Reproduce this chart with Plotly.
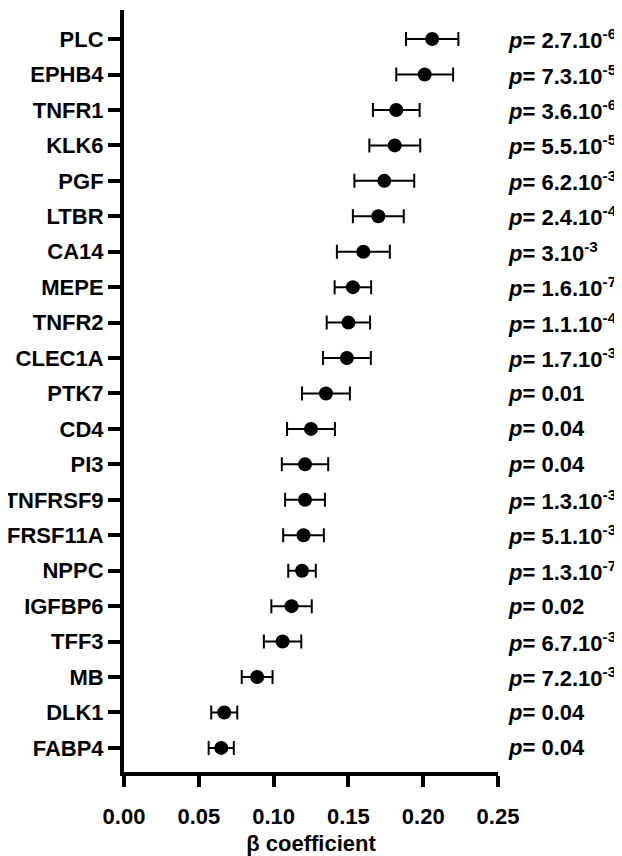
import plotly.graph_objects as go

# Data (top to bottom as in the chart)
proteins = ["PLC", "EPHB4", "TNFR1", "KLK6", "PGF", "LTBR", "CA14", "MEPE", "TNFR2",
            "CLEC1A", "PTK7", "CD4", "PI3", "TNFRSF9", "TNFRSF11A", "NPPC", "IGFBP6",
            "TFF3", "MB", "DLK1", "FABP4"]
beta = [0.206, 0.201, 0.182, 0.181, 0.174, 0.170, 0.160, 0.153, 0.150,
        0.149, 0.135, 0.125, 0.121, 0.121, 0.120, 0.119, 0.112,
        0.106, 0.089, 0.067, 0.065]
err = [0.0175, 0.019, 0.0156, 0.017, 0.020, 0.017, 0.0177, 0.0122, 0.0145,
       0.016, 0.016, 0.016, 0.0155, 0.0133, 0.0136, 0.0092, 0.0135,
       0.0125, 0.0103, 0.0087, 0.0084]
p_labels = ["2.7.10<sup>-6</sup>", "7.3.10<sup>-5</sup>", "3.6.10<sup>-6</sup>", "5.5.10<sup>-5</sup>",
            "6.2.10<sup>-3</sup>", "2.4.10<sup>-4</sup>", "3.10<sup>-3</sup>", "1.6.10<sup>-7</sup>",
            "1.1.10<sup>-4</sup>", "1.7.10<sup>-3</sup>", "0.01", "0.04", "0.04",
            "1.3.10<sup>-3</sup>", "5.1.10<sup>-3</sup>", "1.3.10<sup>-7</sup>", "0.02",
            "6.7.10<sup>-3</sup>", "7.2.10<sup>-3</sup>", "0.04", "0.04"]
x_ticks = [0.00, 0.05, 0.10, 0.15, 0.20, 0.25]
x_ticklabels = ["0.00", "0.05", "0.10", "0.15", "0.20", "0.25"]
x_title = "β coefficient"

FONT = "Liberation Sans, Arial, Helvetica, sans-serif"

fig = go.Figure()
fig.add_trace(go.Scatter(
    x=beta, y=proteins, mode="markers",
    marker=dict(color="black", size=14, symbol="circle"),
    error_x=dict(type="data", array=err, visible=True, color="black",
                 thickness=2, width=7),
    showlegend=False, cliponaxis=False,
))

for prot, pl in zip(proteins, p_labels):
    fig.add_annotation(
        x=1.0, xref="paper", y=prot, yref="y",
        text="<b><i>p</i>= " + pl + "</b>",
        showarrow=False, xanchor="left", yanchor="middle",
        xshift=8, font=dict(family=FONT, size=22, color="black"),
    )

n = len(proteins)
fig.update_layout(
    width=614, height=848,
    margin=dict(l=116, r=124, t=2, b=84),
    paper_bgcolor="white", plot_bgcolor="white",
    font=dict(family=FONT, color="black"),
    xaxis=dict(
        range=[0, 0.25], tickvals=x_ticks, ticktext=x_ticklabels,
        showgrid=False, zeroline=False, automargin=False,
        showline=True, linecolor="black", linewidth=4,
        ticks="outside", ticklen=11, tickwidth=4, tickcolor="black",
        tickfont=dict(family=FONT, size=22, color="black", weight="bold"),
        ticklabelstandoff=11,
        title=dict(text=x_title, font=dict(family=FONT, size=22, color="black", weight="bold"),
                   standoff=11),
    ),
    yaxis=dict(
        type="category", categoryorder="array", categoryarray=proteins,
        range=[n - 1 + 0.68, -0.82], automargin=False,
        showgrid=False, zeroline=False,
        showline=True, linecolor="black", linewidth=4,
        ticks="outside", ticklen=12, tickwidth=4, tickcolor="black",
        tickfont=dict(family=FONT, size=22, color="black", weight="bold"),
    ),
)

fig.write_html("out.html")
